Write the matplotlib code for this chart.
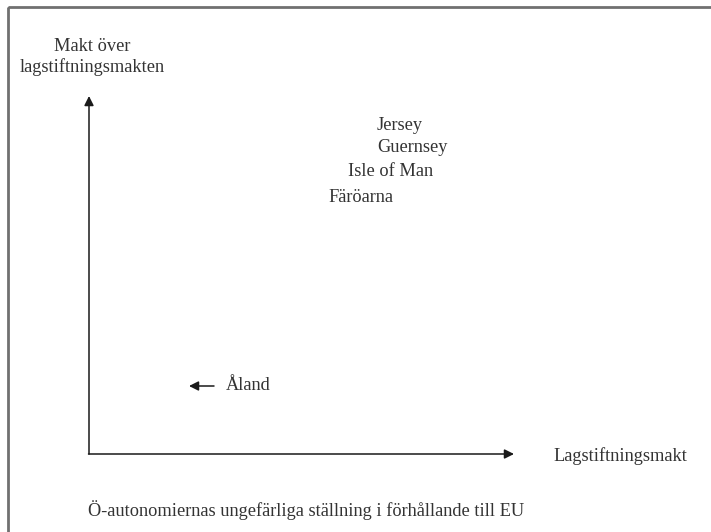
import matplotlib
matplotlib.use("Agg")
import matplotlib.pyplot as plt
from matplotlib.patches import Rectangle

# territories placed on the power diagram (x = lagstiftningsmakt, y = makt over lagstiftningsmakten)
territories = ["Jersey", "Guernsey", "Isle of Man", "Färöarna"]
terr_x = [377, 377, 348, 328]
terr_y = [125, 147, 172, 198]

y_label = "Makt över\nlagstiftningsmakten"
x_label = "Lagstiftningsmakt"
caption = "Ö-autonomiernas ungefärliga ställning i förhållande till EU"
aland = "Åland"

plt.rcParams['font.family'] = ['Liberation Serif', 'DejaVu Serif']
txt_color = '#333333'
fs = 13.2

fig = plt.figure(figsize=(7.11, 5.32), dpi=100)
ax = fig.add_axes([0, 0, 1, 1])
ax.set_xlim(0, 711)
ax.set_ylim(532, 0)
ax.axis('off')

# outer frame
ax.add_patch(Rectangle((7.5, 6.5), 720, 540, fill=False, edgecolor='#707070', lw=2))

# axes arrows
arrow = dict(arrowstyle='-|>', color='#1a1a1a', lw=1.1, mutation_scale=14, shrinkA=0, shrinkB=0)
ax.annotate('', xy=(89, 96), xytext=(89, 454), arrowprops=arrow)
ax.annotate('', xy=(514, 454), xytext=(88.5, 454), arrowprops=arrow)

ax.text(92, 57, y_label, ha='center', va='center', fontsize=fs, color=txt_color,
        linespacing=1.2)
ax.text(553, 456, x_label, ha='left', va='center', fontsize=fs, color=txt_color)

for name, x, y in zip(territories, terr_x, terr_y):
    ax.text(x, y, name, ha='left', va='center', fontsize=fs, color=txt_color)

ax.annotate('', xy=(189, 386), xytext=(214, 386), arrowprops=arrow)
ax.text(226, 386, aland, ha='left', va='center', fontsize=fs, color=txt_color)

ax.text(88, 510, caption, ha='left', va='center', fontsize=fs, color=txt_color)

fig.savefig('out.png', dpi=100)
plt.close(fig)
